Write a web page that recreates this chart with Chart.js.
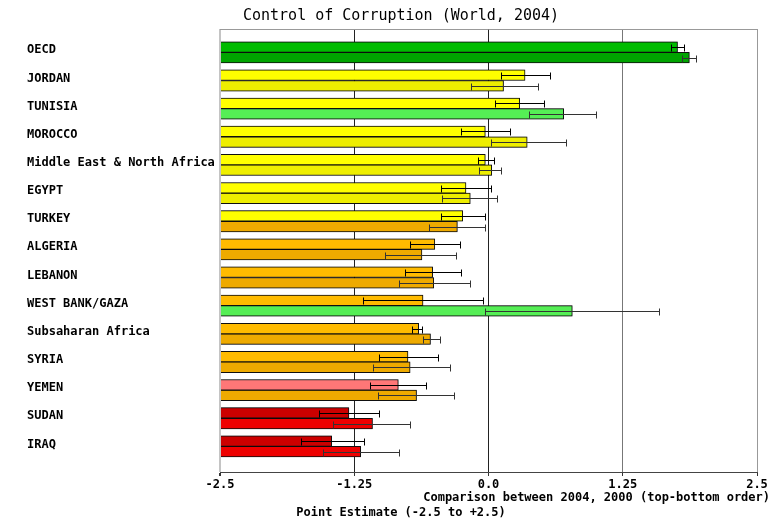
<!DOCTYPE html>
<html>
<head>
<meta charset="utf-8">
<script src="https://cdn.jsdelivr.net/npm/chart.js@4.4.1/dist/chart.umd.min.js"></script>
<style>
  html, body { margin: 0; padding: 0; background: #fff; }
</style>
</head>
<body>
<canvas id="cc-chart" width="772" height="521"></canvas>
<script>
const countries = ["OECD", "JORDAN", "TUNISIA", "MOROCCO", "Middle East & North Africa", "EGYPT",
    "TURKEY", "ALGERIA", "LEBANON", "WEST BANK/GAZA", "Subsaharan Africa", "SYRIA", "YEMEN", "SUDAN", "IRAQ"];

// 2004 estimate with its error range
const est2004  = [1.76, 0.34, 0.29, -0.03, -0.03, -0.21, -0.24, -0.50, -0.52, -0.61, -0.65, -0.75, -0.84, -1.30, -1.46];
const low2004  = [1.70, 0.12, 0.06, -0.26, -0.10, -0.44, -0.44, -0.73, -0.78, -1.17, -0.71, -1.02, -1.10, -1.58, -1.75];
const high2004 = [1.82, 0.57, 0.52, 0.20, 0.05, 0.02, -0.03, -0.27, -0.26, -0.05, -0.62, -0.47, -0.58, -1.02, -1.16];

// 2000 estimate with its error range
const est2000  = [1.87, 0.14, 0.70, 0.36, 0.03, -0.17, -0.29, -0.62, -0.51, 0.78, -0.54, -0.73, -0.67, -1.08, -1.19];
const low2000  = [1.80, -0.16, 0.38, 0.02, -0.09, -0.43, -0.55, -0.96, -0.83, -0.03, -0.61, -1.08, -1.03, -1.45, -1.54];
const high2000 = [1.93, 0.46, 1.00, 0.72, 0.12, 0.08, -0.03, -0.30, -0.17, 1.59, -0.45, -0.36, -0.32, -0.73, -0.83];

const xTicks = [-2.5, -1.25, 0, 1.25, 2.5];
const xTickLabels = ["-2.5", "-1.25", "0.0", "1.25", "2.5"];

const colors2004 = ["#00bb00", "#ffff00", "#ffff00", "#ffff00", "#ffff00", "#ffff00", "#ffff00", "#ffbb00",
    "#ffbb00", "#ffbb00", "#ffbb00", "#ffbb00", "#ff7777", "#cc0000", "#cc0000"];
const colors2000 = ["#00a400", "#eeee00", "#55ee55", "#eeee00", "#eeee00", "#eeee00", "#eeaa00", "#eeaa00",
    "#eeaa00", "#55ee55", "#eeaa00", "#eeaa00", "#eeaa00", "#ee0000", "#ee0000"];

const MONO = "'DejaVu Sans Mono', 'Liberation Mono', monospace";

const frameAndText = {
    id: 'frameAndText',
    beforeDatasetsDraw(chart) {
        const {ctx, chartArea: {left, right, top}} = chart;
        ctx.save();
        ctx.strokeStyle = "#999";
        ctx.lineWidth = 1;
        ctx.beginPath();
        ctx.moveTo(left, top + 0.5);
        ctx.lineTo(right, top + 0.5);
        ctx.stroke();
        ctx.restore();
    },
    afterDraw(chart) {
        const {ctx, width} = chart;
        ctx.save();
        ctx.fillStyle = "#000";
        ctx.textBaseline = "middle";
        ctx.textAlign = "center";
        ctx.font = "15px " + MONO;
        ctx.fillText("Control of Corruption (World, 2004)", 401, 16);
        ctx.font = "bold 12px " + MONO;
        ctx.textAlign = "right";
        ctx.fillText("Comparison between 2004, 2000 (top-bottom order)", width - 2, 498);
        ctx.textAlign = "center";
        ctx.fillText("Point Estimate (-2.5 to +2.5)", 401, 513);
        ctx.restore();
    }
};

// soft grey halo round the bars
const barHalo = {
    id: 'barHalo',
    beforeDatasetsDraw(chart) {
        chart.ctx.save();
        chart.ctx.shadowColor = "rgba(0,0,0,0.35)";
        chart.ctx.shadowBlur = 2;
    },
    afterDatasetsDraw(chart) {
        chart.ctx.restore();
    }
};

const errorBars = {
    id: 'errorBars',
    afterDatasetsDraw(chart) {
        const {ctx, scales: {x}} = chart;
        const ranges = [[low2004, high2004, "#000"], [low2000, high2000, "#333"]];
        ctx.save();
        ctx.lineWidth = 1;
        ranges.forEach(([lo, hi, col], d) => {
            ctx.strokeStyle = col;
            chart.getDatasetMeta(d).data.forEach((bar, i) => {
                const x1 = Math.round(x.getPixelForValue(lo[i])) + 0.5;
                const x2 = Math.round(x.getPixelForValue(hi[i])) + 0.5;
                const y = Math.round(bar.y) + 0.5;
                ctx.beginPath();
                ctx.moveTo(x1, y); ctx.lineTo(x2, y);
                ctx.moveTo(x1, y - 3); ctx.lineTo(x1, y + 4);
                ctx.moveTo(x2, y - 3); ctx.lineTo(x2, y + 4);
                ctx.stroke();
            });
        });
        ctx.restore();
    }
};

const gridColor = (v) => v === -2.5 ? "#c4c4c4" : v === 1.25 ? "#777" : v === 2.5 ? "#999" : "#222";

new Chart(document.getElementById("cc-chart"), {
    type: 'bar',
    data: {
        datasets: [{
            label: "2004",
            data: est2004.map((v, i) => ({x: v, y: i})),
            backgroundColor: colors2004,
        }, {
            label: "2000",
            data: est2000.map((v, i) => ({x: v, y: i})),
            backgroundColor: colors2000,
        }]
    },
    options: {
        responsive: false,
        animation: false,
        indexAxis: 'y',
        datasets: {
            bar: {
                base: -2.5,
                borderColor: "#111",
                borderWidth: 1,
                barThickness: 10.6,
                grouped: true
            }
        },
        layout: { padding: {top: 29, left: 27, right: 15, bottom: 0} },
        plugins: {
            legend: { display: false },
            tooltip: { enabled: false },
            title: { display: false }
        },
        scales: {
            x: {
                type: 'linear',
                min: -2.5,
                max: 2.5,
                afterBuildTicks: (scale) => { scale.ticks = xTicks.map(v => ({value: v})); },
                afterFit: (scale) => { scale.height = 49; },
                ticks: {
                    autoSkip: false,
                    maxRotation: 0,
                    padding: 2,
                    color: "#000",
                    font: {family: MONO, size: 12, weight: 'bold'},
                    callback: (v, i) => xTickLabels[i]
                },
                grid: {
                    color: (c) => gridColor(c.tick.value),
                    lineWidth: (c) => c.tick.value === -2.5 ? 2 : 1,
                    tickColor: "#333",
                    tickLength: 4
                },
                border: { display: true, color: "#444", width: 1 }
            },
            y: {
                type: 'linear',
                reverse: true,
                offset: false,
                min: -0.83,
                max: 14.91,
                afterBuildTicks: (scale) => { scale.ticks = countries.map((c, i) => ({value: i})); },
                afterFit: (scale) => { scale.width = 193; },
                ticks: {
                    autoSkip: false,
                    crossAlign: 'far',
                    labelOffset: -2,
                    color: "#000",
                    font: {family: MONO, size: 12, weight: 'bold'},
                    callback: (v) => countries[v]
                },
                grid: { display: false, offset: false },
                border: { display: false }
            }
        }
    },
    plugins: [frameAndText, barHalo, errorBars]
});
</script>
</body>
</html>
